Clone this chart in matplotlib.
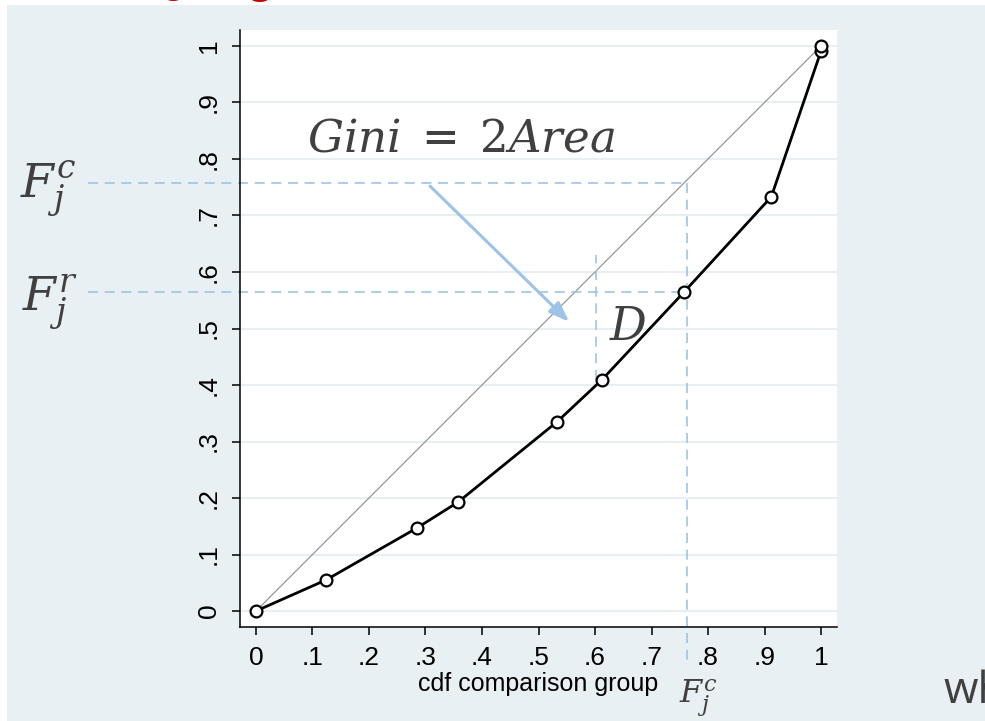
import numpy as np
from matplotlib import pyplot as plt
from matplotlib.patches import Rectangle

# lorenz-type curve
cdf_comp = [0, 0.124, 0.285, 0.358, 0.533, 0.612, 0.758, 0.912, 1.0, 1.0]
cdf_ref = [0, 0.055, 0.147, 0.193, 0.335, 0.409, 0.565, 0.733, 0.991, 1.0]
ticks = [0, .1, .2, .3, .4, .5, .6, .7, .8, .9, 1]
tick_labels = ['0', '.1', '.2', '.3', '.4', '.5', '.6', '.7', '.8', '.9', '1']
Fc = 0.757   # F_j^c
Fr = 0.565   # F_j^r
xc = 0.762   # comparison group cdf at F_j^c
D_x = 0.602
D_y = [0.409, 0.630]

bg = '#e8f0f3'
dash_col = '#9dc3e6'
txt_col = '#404040'

plt.rcParams['font.family'] = ['Liberation Sans', 'DejaVu Sans']
plt.rcParams['mathtext.fontset'] = 'dejavuserif'

fig = plt.figure(figsize=(9.85, 7.21), dpi=100, facecolor='white')
fig.patches.append(Rectangle((7 / 985, 0), 1, 1 - 5 / 721, transform=fig.transFigure,
                             facecolor=bg, edgecolor='none', zorder=-10))

ax = fig.add_axes([240 / 985, 1 - 627 / 721, 597 / 985, 597 / 721])
ax.set_zorder(2)
ax.set_facecolor('white')
ax.set_xlim(-0.0283, 1.0283)
ax.set_ylim(-0.0283, 1.0283)
for s in ['top', 'right']:
    ax.spines[s].set_visible(False)
for s in ['left', 'bottom']:
    ax.spines[s].set_linewidth(1.1)

ax.set_xticks(ticks)
ax.set_xticklabels(tick_labels, fontsize=19)
ax.set_yticks(ticks)
ax.set_yticklabels(tick_labels, fontsize=19, rotation=90, va='center')
ax.tick_params(axis='x', length=6, width=1.1, pad=8)
ax.tick_params(axis='y', length=6, width=1.1, pad=8)
ax.yaxis.grid(True, color='#e8eff2', linewidth=1.5)
ax.set_axisbelow(True)
ax.set_xlabel('cdf comparison group', fontsize=18, labelpad=1)

# diagonal of equality
ax.plot([0, 1], [0, 1], color='#8c8c8c', linewidth=0.8)

# dashed guide lines
dash = dict(color=dash_col, linewidth=1.2, linestyle=(0, (6, 4)), clip_on=False)
ax.plot([-0.297, xc], [Fc, Fc], **dash)
ax.plot([-0.297, cdf_comp[6]], [Fr, Fr], **dash)
ax.plot([xc, xc], [Fc, -0.087], **dash)
ax.plot([D_x, D_x], D_y, **dash)

ax.plot(cdf_comp, cdf_ref, color='black', linewidth=2.0, marker='o', markersize=8.5,
        markerfacecolor='white', markeredgecolor='black', markeredgewidth=1.6, zorder=5)

ax.annotate('', xy=(0.554, 0.512), xytext=(0.308, 0.752),
            arrowprops=dict(arrowstyle='-|>,head_length=1.2,head_width=0.45',
                            color=dash_col, linewidth=2.2, shrinkA=0, shrinkB=0))

ax.text(0.090, 0.813, r'$Gini\;=\;2Area$', fontsize=32.5, color=txt_col)
ax.text(0.625, 0.480, r'$D$', fontsize=33, color=txt_col)

fig.text(20 / 985, 1 - 196 / 721, r'$F_j^c$', fontsize=34, color=txt_col)
fig.text(22 / 985, 1 - 311 / 721, r'$F_j^r$', fontsize=34, color=txt_col)
fig.text(679 / 985, 1 - 703 / 721, r'$F_j^c$', fontsize=23, color=txt_col)
fig.text(943 / 985, 1 - 703 / 721, 'wh', fontsize=32, color=txt_col,
         family=['Open Sans', 'DejaVu Sans'])

# bits of the slide title cut off at the top edge
fig.text(160 / 985, 1 + 8 / 721, 'g', fontsize=30, color='#c00000', fontweight='bold')
fig.text(245 / 985, 1 + 8 / 721, 'g', fontsize=34, color='#c00000', fontweight='bold')

fig.savefig('out.png', dpi=100, facecolor=fig.get_facecolor())
